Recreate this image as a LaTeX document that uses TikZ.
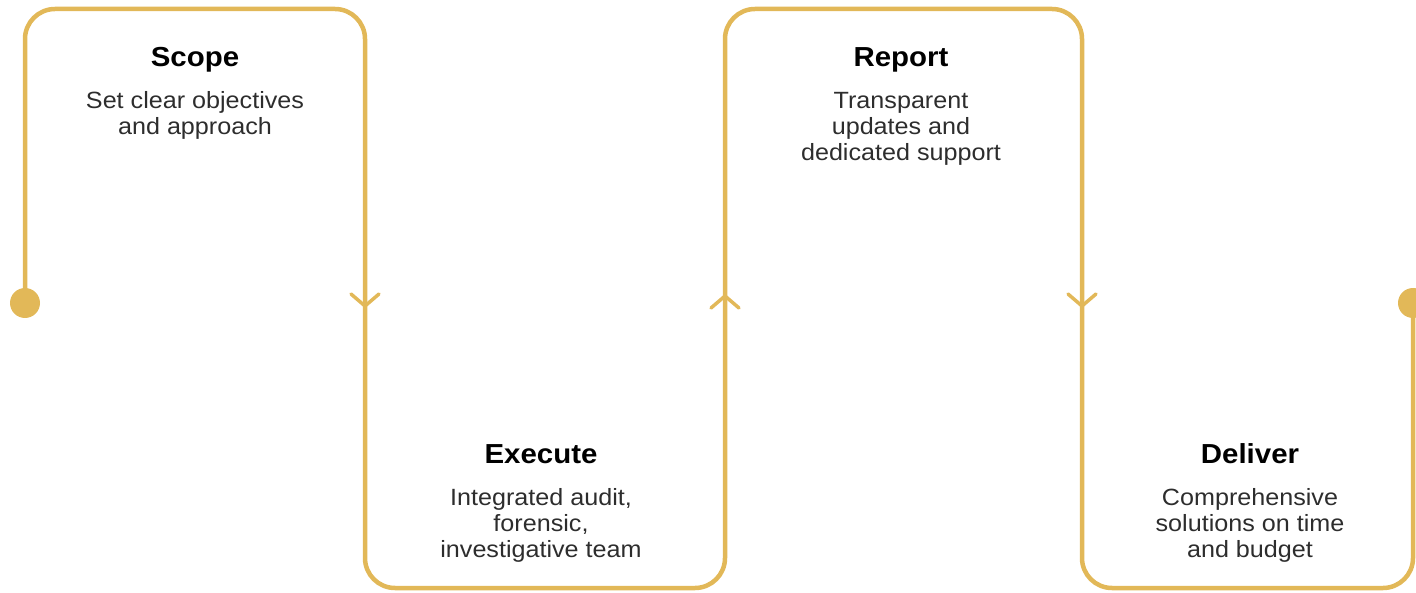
\documentclass[tikz,border=0pt]{standalone}
\usepackage{fontspec}
\setmainfont{Liberation Sans}[FakeStretch=1.07]
\definecolor{gold}{RGB}{226,184,88}
\definecolor{bodytext}{RGB}{45,45,45}
\tikzset{
  flow/.style={draw=gold, line width=4.5pt, rounded corners=30pt},
  chev/.style={draw=gold, line width=3.5pt, line cap=round, line join=round},
  enddot/.style={fill=gold},
  ttl/.style={font=\fontsize{27.5}{32}\selectfont\bfseries, text=black, inner sep=0pt, anchor=base},
  desc/.style={font=\fontsize{23.5}{26}\selectfont, text=bodytext, align=center, inner sep=0pt, anchor=base},
}
\begin{document}
\begin{tikzpicture}[x=1pt,y=-1pt]
\useasboundingbox (0,0) rectangle (1416,593);
\coordinate (s) at (25,303);
\coordinate (e) at (1413,303);
\draw[flow] (s) -- (25,9) -- (365,9) -- (365,588) -- (725,588) -- (725,9) -- (1082,9) -- (1082,588) -- (1413,588) -- (e);
\fill[enddot] (s) circle (15);
\fill[enddot] (e) circle (15);
% chevrons
\draw[chev] (351,294) -- (365,306) -- (379,294);
\draw[chev] (711,308) -- (725,296) -- (739,308);
\draw[chev] (1068,294) -- (1082,306) -- (1096,294);
% texts
\node[ttl] (t1) at (195,66.5) {Scope};
\node[desc] (d1) at (195,135) {Set clear objectives\\and approach};
\node[ttl] (t2) at (901,66.5) {Report};
\node[desc] (d2) at (901,161) {Transparent\\updates and\\dedicated support};
\node[ttl] (t3) at (541,463) {Execute};
\node[desc] (d3) at (541,557) {Integrated audit,\\forensic,\\investigative team};
\node[ttl] (t4) at (1250,463) {Deliver};
\node[desc] (d4) at (1250,557) {Comprehensive\\solutions on time\\and budget};
\end{tikzpicture}
\end{document}
